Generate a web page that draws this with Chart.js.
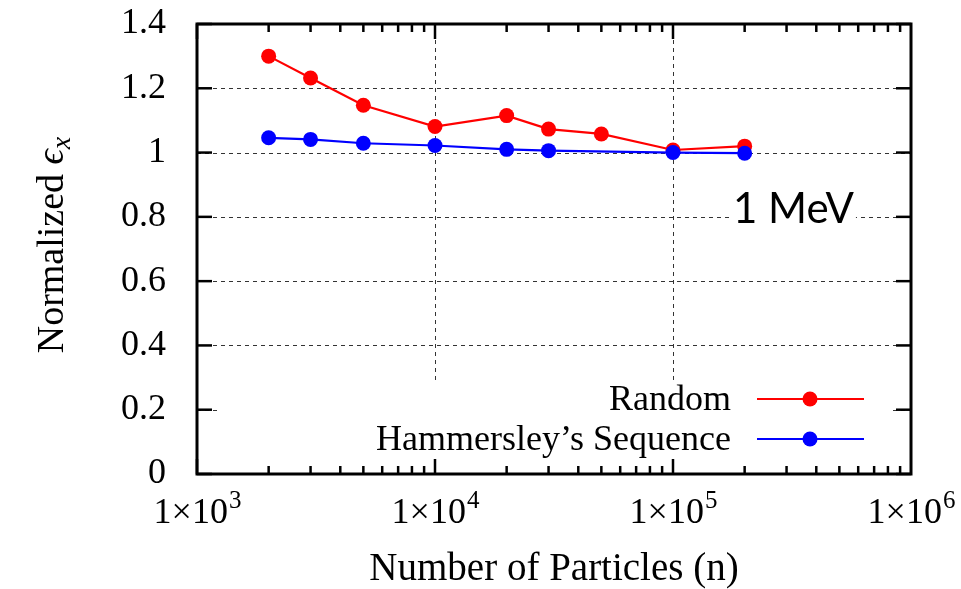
<!DOCTYPE html>
<html>
<head>
<meta charset="utf-8">
<script src="https://cdn.jsdelivr.net/npm/chart.js@4.4.1/dist/chart.umd.min.js"></script>
<style>
  body { margin: 0; background: #fff; }
  #wrap { width: 961px; height: 589px; }
</style>
</head>
<body>
<div id="wrap"><canvas id="emittanceCanvas" width="961" height="589"></canvas></div>
<script>
// values
const particlesRandom = [2000, 3000, 5000, 10000, 20000, 30000, 50000, 100000, 200000];
const emittanceRandom = [1.300, 1.232, 1.147, 1.081, 1.115, 1.073, 1.058, 1.008, 1.020];
const particlesHammersley = [2000, 3000, 5000, 10000, 20000, 30000, 100000, 200000];
const emittanceHammersley = [1.046, 1.041, 1.029, 1.022, 1.010, 1.006, 1.000, 0.998];
const seriesNames = ['Random', 'Hammersley\u2019s Sequence'];
const seriesColors = ['#ff0000', '#0000ff'];
const xTickValues = [1e3, 1e4, 1e5, 1e6];
const xTickMantissa = ['1\u00d710', '1\u00d710', '1\u00d710', '1\u00d710'];
const xTickExponents = ['3', '4', '5', '6'];
const xGridValues = [1e4, 1e5];
const yTickValues = [0, 0.2, 0.4, 0.6, 0.8, 1, 1.2, 1.4];
const annotationText = '1 MeV';

const SERIF = "'Liberation Serif', 'Times New Roman', serif";

function line(ctx, x1, y1, x2, y2) {
    ctx.beginPath();
    ctx.moveTo(x1, y1);
    ctx.lineTo(x2, y2);
    ctx.stroke();
}

// gnuplot look: dashed grid, white key box, inward ticks, framed border
const gnuplotFrame = {
    id: 'gnuplotFrame',
    beforeDatasetsDraw(chart) {
        const ctx = chart.ctx;
        const a = chart.chartArea;
        const x = chart.scales.x;
        const y = chart.scales.y;
        ctx.save();
        ctx.strokeStyle = '#333';
        ctx.lineWidth = 1;
        ctx.setLineDash([4, 4]);
        yTickValues.forEach(v => {
            if (v <= y.min || v >= y.max) return;
            const py = Math.round(y.getPixelForValue(v)) + 0.5;
            line(ctx, a.left, py, a.right, py);
        });
        xGridValues.forEach(v => {
            const px = Math.round(x.getPixelForValue(v)) + 0.5;
            line(ctx, px, a.top, px, a.bottom);
        });
        ctx.setLineDash([]);

        // the key sits on a white box that hides the grid
        ctx.fillStyle = '#fff';
        ctx.fillRect(a.left + 23, a.bottom - 93, a.width - 41, 91);

        // energy label, also on white
        ctx.font = '42px Lato, sans-serif';
        const w = ctx.measureText(annotationText).width;
        const tx = 733, ty = 223;
        ctx.fillRect(tx - 2, ty - 34, w + 4, 42);
        ctx.fillStyle = '#000';
        ctx.textAlign = 'left';
        ctx.textBaseline = 'alphabetic';
        ctx.fillText(annotationText, tx, ty);
        ctx.restore();
    },
    afterDraw(chart) {
        const ctx = chart.ctx;
        const a = chart.chartArea;
        const x = chart.scales.x;
        const y = chart.scales.y;
        ctx.save();

        // inward ticks on all four sides
        ctx.strokeStyle = '#000';
        ctx.lineWidth = 2.5;
        for (let e = Math.round(Math.log10(x.min)); e < Math.round(Math.log10(x.max)); e++) {
            for (let m = 1; m < 10; m++) {
                const px = x.getPixelForValue(m * Math.pow(10, e));
                const len = m === 1 ? 15 : 8;
                line(ctx, px, a.bottom, px, a.bottom - len);
                line(ctx, px, a.top, px, a.top + len);
            }
        }
        yTickValues.forEach(v => {
            const py = y.getPixelForValue(v);
            line(ctx, a.left, py, a.left + 15, py);
            line(ctx, a.right, py, a.right - 15, py);
        });

        // border
        ctx.lineWidth = 3;
        ctx.strokeRect(a.left, a.top, a.width, a.height);

        // x tick labels with a real superscript exponent
        ctx.fillStyle = '#000';
        ctx.textAlign = 'left';
        ctx.textBaseline = 'alphabetic';
        xTickValues.forEach((v, i) => {
            ctx.font = '36px ' + SERIF;
            const w1 = ctx.measureText(xTickMantissa[i]).width;
            ctx.font = '25px ' + SERIF;
            const w2 = ctx.measureText(xTickExponents[i]).width;
            const left = x.getPixelForValue(v) - (w1 + w2) / 2;
            ctx.font = '36px ' + SERIF;
            ctx.fillText(xTickMantissa[i], left, a.bottom + 49);
            ctx.font = '25px ' + SERIF;
            ctx.fillText(xTickExponents[i], left + w1 + 1, a.bottom + 34);
        });

        // key
        ctx.font = '36px ' + SERIF;
        ctx.textAlign = 'right';
        ctx.textBaseline = 'middle';
        chart.data.datasets.forEach((ds, i) => {
            const ly = a.bottom - 75 + i * 40;
            ctx.fillStyle = '#000';
            ctx.fillText(ds.label, 731, ly + 2);
            ctx.strokeStyle = ds.borderColor;
            ctx.lineWidth = 2;
            line(ctx, 757, ly, 864, ly);
            ctx.fillStyle = ds.borderColor;
            ctx.beginPath();
            ctx.arc(810, ly, 7.5, 0, Math.PI * 2);
            ctx.fill();
        });

        // y axis title with italic epsilon and subscript x
        ctx.translate(63, (a.top + a.bottom) / 2 - 4);
        ctx.rotate(-Math.PI / 2);
        ctx.textAlign = 'left';
        ctx.textBaseline = 'alphabetic';
        ctx.fillStyle = '#000';
        const parts = [
            { t: 'Normalized ', f: '38px ' + SERIF, dy: 0 },
            { t: '\u03f5', f: 'italic 38px ' + SERIF, dy: 0 },
            { t: 'x', f: 'italic 28px ' + SERIF, dy: 7 }
        ];
        let total = 0;
        parts.forEach(p => { ctx.font = p.f; p.w = ctx.measureText(p.t).width; total += p.w; });
        let cx = -total / 2;
        parts.forEach(p => {
            ctx.font = p.f;
            ctx.fillText(p.t, cx, p.dy);
            cx += p.w;
        });
        ctx.restore();
    }
};

document.addEventListener('DOMContentLoaded', function() {
    const ctx = document.getElementById('emittanceCanvas').getContext('2d');
    new Chart(ctx, {
        type: 'line',
        data: {
            datasets: [{
                label: seriesNames[0],
                data: particlesRandom.map((n, i) => ({ x: n, y: emittanceRandom[i] })),
                borderColor: seriesColors[0],
                backgroundColor: seriesColors[0],
                order: 1
            }, {
                label: seriesNames[1],
                data: particlesHammersley.map((n, i) => ({ x: n, y: emittanceHammersley[i] })),
                borderColor: seriesColors[1],
                backgroundColor: seriesColors[1],
                order: 0
            }]
        },
        options: {
            responsive: false,
            animation: false,
            layout: { padding: { top: 24, right: 50, left: 0, bottom: 0 } },
            elements: {
                line: { borderWidth: 2.2, tension: 0 },
                point: { radius: 7.5, hoverRadius: 7.5, borderWidth: 0 }
            },
            plugins: {
                legend: { display: false },
                tooltip: { enabled: false }
            },
            scales: {
                x: {
                    type: 'logarithmic',
                    min: 1e3,
                    max: 1e6,
                    grid: { display: false },
                    border: { display: false },
                    afterBuildTicks: s => { s.ticks = xTickValues.map(v => ({ value: v })); },
                    // fixed axis height, no extra side padding for the end labels
                    afterFit: s => { s.height = 115; s.paddingLeft = 0; s.paddingRight = 0; },
                    // labels are drawn by the plugin so the exponent can be raised
                    ticks: { display: false },
                    title: {
                        display: true,
                        text: 'Number of Particles (n)',
                        color: '#000',
                        font: { family: SERIF, size: 39, lineHeight: 1 },
                        padding: 0
                    }
                },
                y: {
                    min: 0,
                    max: 1.4,
                    grid: { display: false },
                    border: { display: false },
                    afterBuildTicks: s => { s.ticks = yTickValues.map(v => ({ value: v })); },
                    afterFit: s => { s.width = 197; s.paddingTop = 0; s.paddingBottom = 0; },
                    ticks: {
                        color: '#000',
                        font: { family: SERIF, size: 36 },
                        padding: 23,
                        callback: v => String(+v.toFixed(1))
                    }
                }
            }
        },
        plugins: [gnuplotFrame]
    });
});
</script>
</body>
</html>
